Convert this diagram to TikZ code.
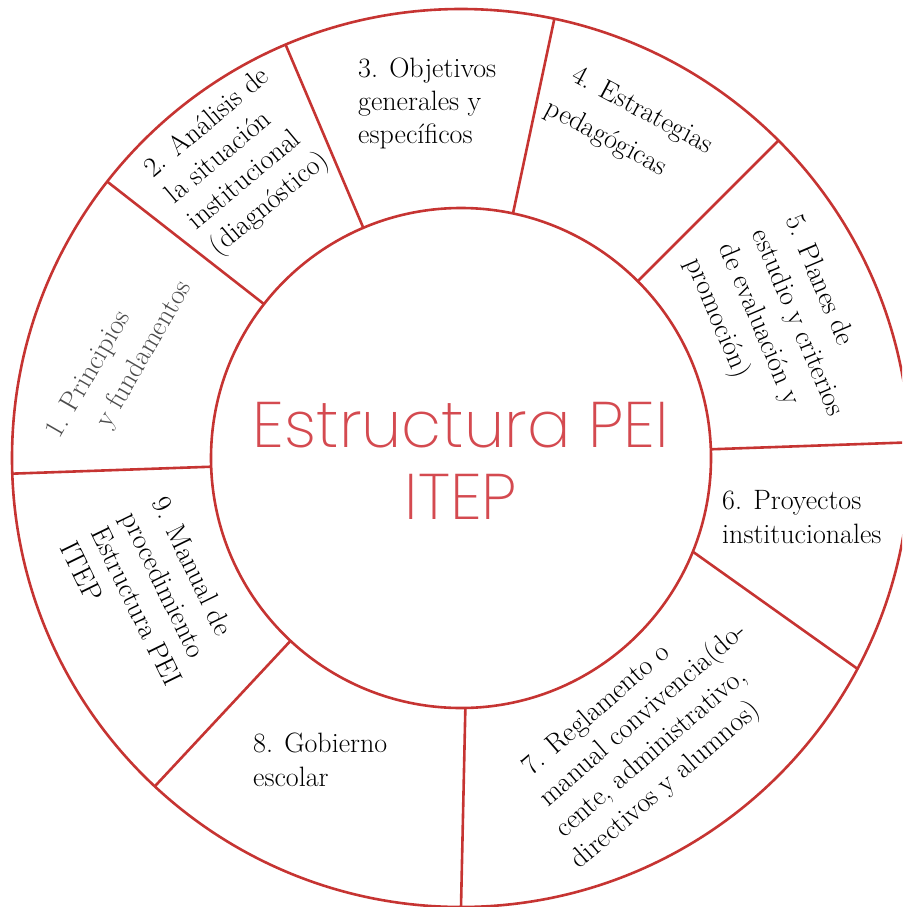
\documentclass[tikz,border=0pt]{standalone}
\usepackage{fontspec}
\newfontfamily\titlefont{Poppins ExtraLight}
\definecolor{ringred}{RGB}{198,52,50}
\definecolor{titlered}{RGB}{212,74,80}

\begin{document}
\begin{tikzpicture}[x=1pt, y=1pt,
    ring/.style={draw=ringred, line width=2.6pt, circle, inner sep=0pt, outer sep=0pt},
    spoke/.style={draw=ringred, line width=2.6pt},
    lbl/.style={anchor=north west, align=left, inner sep=0pt, font=\fontsize{28}{34}\selectfont}]
    \useasboundingbox (0,0) rectangle (902,-907);
    \clip (0,0) rectangle (902,-907);

    \node[ring, minimum size=500pt] (core) at (461,-458) {};
    \node[ring, minimum size=898pt] (rim) at (core.center) {};
    \node[text=titlered, align=center, inner sep=0pt, font=\titlefont\fontsize{64.5}{72}\selectfont] (title) at ([yshift=-3pt]core.center) {Estructura PEI\\ITEP};

    \draw[spoke] (core.182.8) -- (rim.182.8);
    \draw[spoke] (core.142.3) -- (rim.142.3);
    \draw[spoke] (core.113.7) -- (rim.113.7);
    \draw[spoke] (core.78.7) -- (rim.78.7);
    \draw[spoke] (core.45.6) -- (rim.45.6);
    \draw[spoke] (core.2.6) -- (rim.2.6);
    \draw[spoke] (core.-22.1) -- (rim.-28.2);
    \draw[spoke] (core.-89.5) -- (rim.-90.3);
    \draw[spoke] (core.227.6) -- (rim.227.6);

    \node[lbl, rotate=60, text=black!70] (princ) at (43,-430) {\makebox[30pt][l]{1.}Principios\\[4pt]\hspace*{33pt}y fundamentos};
    \node[lbl, rotate=40] (analisis) at (140,-163) {2.\hspace{12pt}Análisis de\\la situación\\institucional\\(diagnóstico)};
    \node[lbl] (objet) at (358,-58) {3. Objetivos\\[-1pt]generales y\\[-1pt]específicos};
    \node[lbl, rotate=-28] (estrat) at (572,-60) {\hspace*{8pt}4. Estrategias\\[7pt]pedagógicas};
    \node[lbl, rotate=-67] (planes) at (803,-212) {5. Planes de\\[2pt]estudio y criterios\\[2pt]de evaluación y\\[2pt]promoción)};
    \node[lbl] (proyec) at (722,-490) {6. Proyectos\\institucionales};
    \node[lbl, rotate=41] (regla) at (500,-778) {\hspace*{25pt}7. Reglamento o\\\hspace*{17pt}manual convivencia(do-\\\hspace*{9pt}cente, administrativo,\\directivos y alumnos)};
    \node[lbl] (gobier) at (253,-733) {8. Gobierno\\escolar};
    \node[lbl, rotate=-64] (manual) at (169,-494) {9. Manual de\\procedimiento\\Estructura PEI\\ITEP};
\end{tikzpicture}
\end{document}
